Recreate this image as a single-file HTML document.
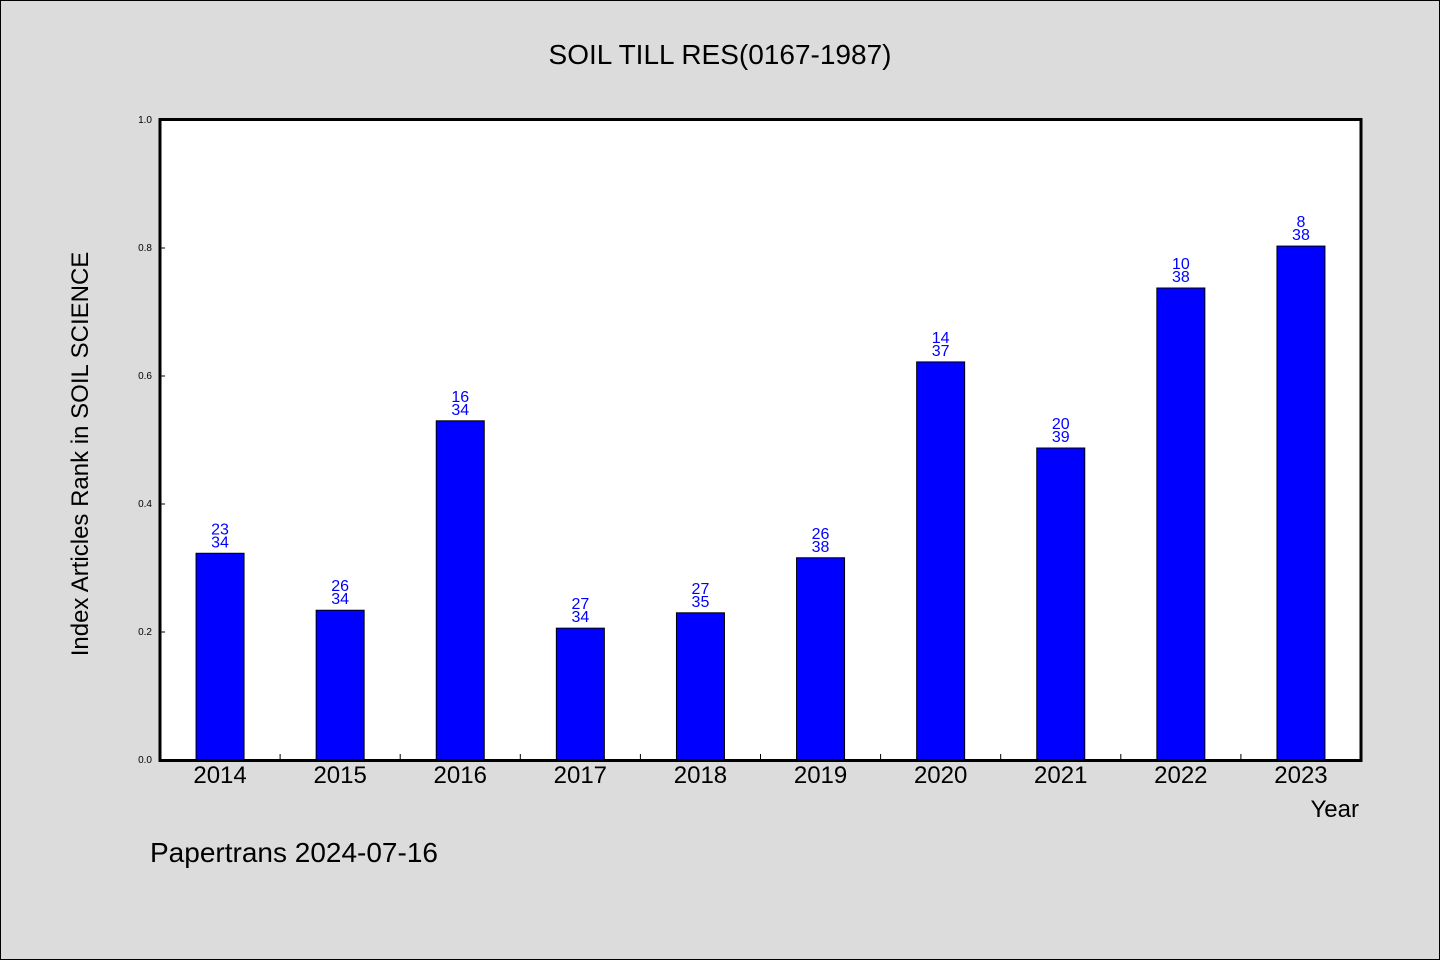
<!DOCTYPE html>
<html><head><meta charset="utf-8"><style>
html,body{margin:0;padding:0;background:#dcdcdc;}
svg{display:block;}
text{font-family:"WenQuanYi Zen Hei","Liberation Sans",sans-serif;}
</style></head><body>
<svg id="chart" width="1440" height="960">
<rect x="0.5" y="0.5" width="1439" height="959" fill="#dcdcdc" stroke="#000"/>
<text x="720" y="64" text-anchor="middle" font-size="28">SOIL TILL RES(0167-1987)</text>
<rect x="160" y="119.5" width="1201" height="641" fill="#fff"/>
<g id="bars"></g>
<rect x="160" y="119.5" width="1201" height="641" fill="none" stroke="#000" stroke-width="3"/>
<text transform="translate(88,454) rotate(-90)" text-anchor="middle" font-size="24">Index Articles Rank in SOIL SCIENCE</text>
<text x="1359" y="817" text-anchor="end" font-size="24">Year</text>
<text x="150" y="862" font-size="28">Papertrans 2024-07-16</text>
</svg>
<script>
const categories=["2014","2015","2016","2017","2018","2019","2020","2021","2022","2023"];
const values=[0.323,0.234,0.530,0.206,0.230,0.316,0.622,0.4875,0.7375,0.803];
const ranks=["23","26","16","27","27","26","14","20","10","8"];
const totals=["34","34","34","34","35","38","37","39","38","38"];
const yTicks=[0,0.2,0.4,0.6,0.8,1.0];
const NS="http://www.w3.org/2000/svg";
const x0=160,x1=1361,yTop=120,yBot=760;
const step=(x1-x0)/categories.length;
const xs=i=>x0+step*(i+0.5);
const ys=v=>yBot-(yBot-yTop)*v;
const g=document.getElementById('bars');
function mk(tag,attrs){const e=document.createElementNS(NS,tag);for(const k in attrs)e.setAttribute(k,attrs[k]);g.appendChild(e);return e;}
yTicks.forEach(t=>{
  const l=mk('line',{x1:x0,x2:x0+5,y1:ys(t),y2:ys(t),stroke:'#000'});
  
  
  const tx=mk('text',{x:x0-8,y:ys(t)+3,'text-anchor':'end','font-size':'10'});
  tx.textContent=t.toFixed(1);
  
  
});
categories.forEach((c,i)=>{
  const cx=xs(i),w=48,top=ys(values[i]);
  const r=mk('rect',{x:cx-w/2,y:top,width:w,height:yBot-top,fill:'#0000ff',stroke:'#000','stroke-width':1});
  
  
  const t1=mk('text',{x:cx,y:top-19,'text-anchor':'middle','font-size':'16',fill:'#0000ff'});
  t1.textContent=ranks[i];
  
  
  const t2=mk('text',{x:cx,y:top-6,'text-anchor':'middle','font-size':'16',fill:'#0000ff'});
  t2.textContent=totals[i];
  
  
  const xl=mk('text',{x:cx,y:783,'text-anchor':'middle','font-size':'24'});
  xl.textContent=c;
  
  
  if(i>0){
    const tk=mk('line',{x1:x0+step*i,x2:x0+step*i,y1:yBot,y2:yBot-6,stroke:'#000'});
    
    
  }
});
</script>
</body></html>
